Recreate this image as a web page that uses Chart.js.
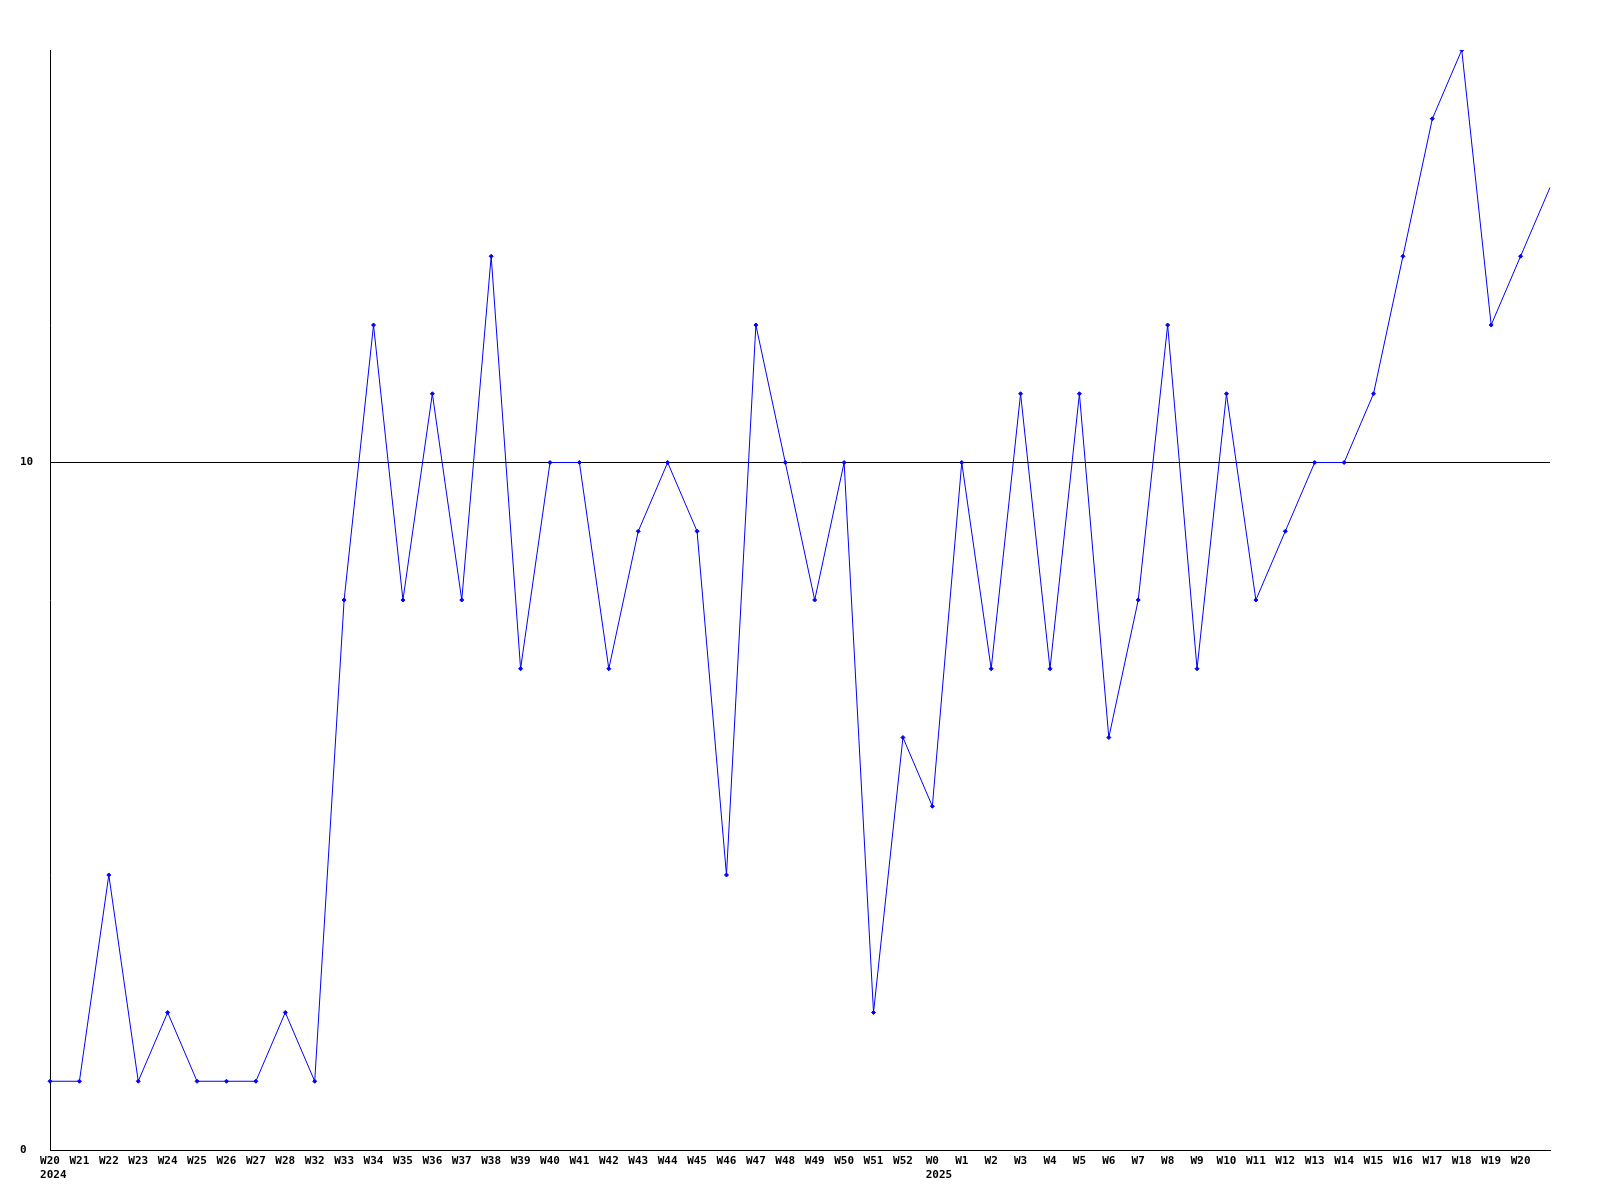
<!DOCTYPE html>
<html>
<head>
<meta charset="utf-8">
<script src="https://cdn.jsdelivr.net/npm/chart.js@4/dist/chart.umd.min.js"></script>
<style>
  html, body { margin: 0; padding: 0; background: #fff; }
  #wrap { width: 1600px; height: 1200px; }
</style>
</head>
<body>
<div id="wrap"><canvas id="chart" width="1600" height="1200"></canvas></div>
<script>
// semaines (la dernière n'a pas d'étiquette)
const weeks = ['W20', 'W21', 'W22', 'W23', 'W24', 'W25', 'W26', 'W27', 'W28', 'W32',
  'W33', 'W34', 'W35', 'W36', 'W37', 'W38', 'W39', 'W40', 'W41', 'W42',
  'W43', 'W44', 'W45', 'W46', 'W47', 'W48', 'W49', 'W50', 'W51', 'W52',
  'W0', 'W1', 'W2', 'W3', 'W4', 'W5', 'W6', 'W7', 'W8', 'W9',
  'W10', 'W11', 'W12', 'W13', 'W14', 'W15', 'W16', 'W17', 'W18', 'W19',
  'W20', ''];
const years = { 0: '2024', 30: '2025' };
const values = [1, 1, 4, 1, 2, 1, 1, 1, 2, 1,
  8, 12, 8, 11, 8, 13, 7, 10, 10, 7,
  9, 10, 9, 4, 12, 10, 8, 10, 2, 6,
  5, 10, 7, 11, 7, 11, 6, 8, 12, 7,
  11, 8, 9, 10, 10, 11, 13, 15, 16, 12,
  13, 14];
const yTicks = [0, 10];

// l'année est alignée à gauche sous la semaine
const labels = weeks.map((w, i) => {
  if (!years[i]) return w;
  const pad = years[i].length - w.length;
  return [w, ' '.repeat(pad) + years[i]];
});
const font = { family: '"DejaVu Sans Mono", monospace', size: 11, weight: 'bold', lineHeight: 1.3 };

new Chart(document.getElementById('chart'), {
  type: 'line',
  data: {
    labels: labels,
    datasets: [{
      data: values,
      borderColor: '#0000ff',
      backgroundColor: '#0000ff',
      borderWidth: 1,
      tension: 0,
      pointStyle: 'rectRot',
      pointRadius: values.map((v, i) => i === values.length - 1 ? 0 : 2),
      pointBorderWidth: 1,
      fill: false
    }]
  },
  options: {
    responsive: false,
    animation: false,
    layout: { padding: { left: 20, top: 50, right: 50, bottom: 0 } },
    plugins: { legend: { display: false }, tooltip: { enabled: false } },
    scales: {
      x: {
        offset: false,
        grid: { display: false, drawTicks: false },
        border: { color: '#000', width: 1 },
        ticks: { color: '#000', font: font, maxRotation: 0, autoSkip: false, padding: 4 },
        afterFit: s => { s.height = 50; }
      },
      y: {
        min: 0,
        max: 16,
        afterBuildTicks: s => { s.ticks = yTicks.map(v => ({ value: v })); },
        grid: { color: '#000', lineWidth: 1, drawTicks: false },
        border: { color: '#000', width: 1 },
        ticks: { color: '#000', font: font, crossAlign: 'far', padding: 0 },
        afterFit: s => { s.width = 30; }
      }
    }
  }
});
</script>
</body>
</html>
